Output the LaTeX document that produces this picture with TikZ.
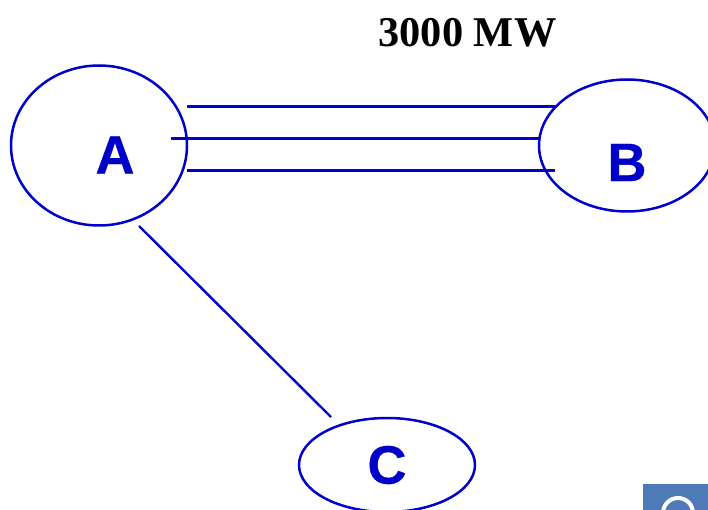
\documentclass[tikz,border=0pt]{standalone}
\usepackage{fontspec}
\setmainfont{Liberation Sans}
\newfontfamily\titlefont{Liberation Serif}
\newfontfamily\letterfont[FakeBold=0.6]{Liberation Sans Bold}
\usetikzlibrary{shapes.geometric}
\definecolor{netblue}{HTML}{0000C8}
\definecolor{cornerblue}{HTML}{4F7AB8}
\tikzset{
  x=1pt,y=-1pt,
  station/.style={draw=netblue,line width=2.5pt,ellipse,inner sep=0pt,minimum width=176pt},
  letter/.style={inner sep=0pt,text=netblue,font=\letterfont\fontsize{54}{54}\selectfont},
  tie/.style={draw=netblue,line width=3pt},
  link/.style={draw=netblue,line width=2.4pt}
}
\begin{document}
\begin{tikzpicture}
\useasboundingbox (0,0) rectangle (708,510);
\clip (0,0) rectangle (708,510);
\fill[cornerblue] (643,484) rectangle (708,510);
\draw[white,line width=4pt] (678,513) circle (15);
\node[station,minimum height=160pt] (A) at (99,145.5) {};
\node[station,minimum height=132pt] (B) at (627,145.5) {};
\node[station,minimum height=94pt] (C) at (387,465) {};
\node[letter] (la) at (115,155) {A};
\node[letter] (lb) at (627,162.5) {B};
\node[letter] (lc) at (387,465) {C};
\node[inner sep=0pt,font=\titlefont\fontsize{42.4}{42.4}\selectfont\bfseries] (title) at (467.5,32.5) {3000 MW};
\coordinate (a1) at (187,106.5);\coordinate (b1) at (555,106.5);
\coordinate (a2) at (171,138.5);\coordinate (b2) at (539,138.5);
\coordinate (a3) at (187,170.5);\coordinate (b3) at (555,170.5);
\coordinate (a4) at (139,226);\coordinate (c4) at (331,417);
\draw[tie] (a1) -- (b1);
\draw[tie] (a2) -- (b2);
\draw[tie] (a3) -- (b3);
\draw[link] (a4) -- (c4);
\end{tikzpicture}
\end{document}
